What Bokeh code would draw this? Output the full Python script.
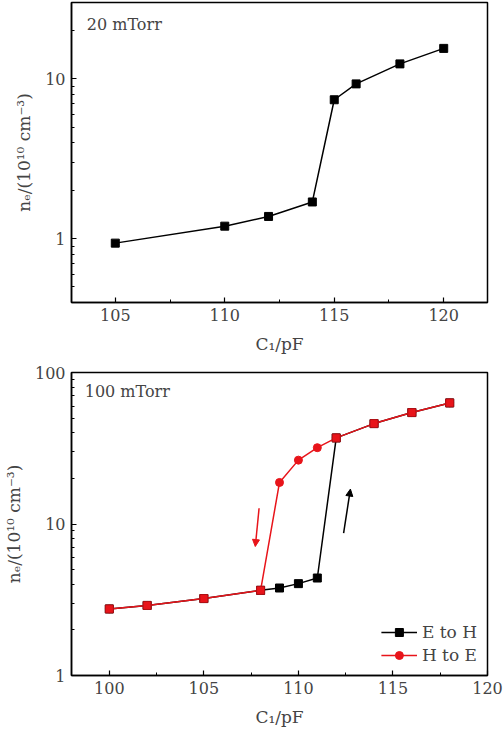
from bokeh.plotting import figure
from bokeh.layouts import column
from bokeh.models import Range1d, FixedTicker, Arrow, NormalHead, Label, Legend, LegendItem
from bokeh.embed import file_html
from bokeh.resources import INLINE

# ---- data: 20 mTorr ----
c1_20 = [105, 110, 112, 114, 115, 116, 118, 120]
ne_20 = [0.94, 1.20, 1.38, 1.70, 7.4, 9.3, 12.4, 15.5]

# ---- data: 100 mTorr ----
c1_eh = [100, 102, 105, 108, 109, 110, 111, 112, 114, 116, 118]
ne_eh = [2.75, 2.90, 3.22, 3.65, 3.78, 4.04, 4.40, 37.0, 46.0, 54.4, 63.0]
c1_he = [118, 116, 114, 112, 111, 110, 109, 108, 105, 102, 100]
ne_he = [63.0, 54.4, 46.0, 37.0, 31.9, 26.4, 18.8, 3.65, 3.22, 2.90, 2.75]

x_ticks_top = [105, 110, 115, 120]
x_ticks_bot = [100, 105, 110, 115, 120]
y_ticks_top = [1, 10]
y_ticks_bot = [1, 10, 100]
y_minor_top = [0.4, 0.5, 0.6, 0.7, 0.8, 0.9, 2, 3, 4, 5, 6, 7, 8, 9, 20, 30]
y_minor_bot = [2, 3, 4, 5, 6, 7, 8, 9, 20, 30, 40, 50, 60, 70, 80, 90]

FONT = "DejaVu Serif"
YLABEL = "nₑ/(10¹⁰ cm⁻³)"
XLABEL = "C₁/pF"


def style(p, xticks, yticks, yminor):
    p.outline_line_color = "black"
    p.outline_line_width = 1.5
    p.grid.visible = False
    p.background_fill_color = "white"
    p.border_fill_color = "white"
    for ax in (p.xaxis[0], p.yaxis[0]):
        ax.axis_line_width = 1.5
        ax.major_tick_in = 5
        ax.major_tick_out = 0
        ax.minor_tick_in = 3
        ax.minor_tick_out = 0
        ax.major_tick_line_width = 1.2
        ax.minor_tick_line_width = 1.0
        ax.major_label_text_font = FONT
        ax.major_label_text_font_size = "16px"
        ax.axis_label_text_font = FONT
        ax.axis_label_text_font_size = "17px"
        ax.axis_label_text_font_style = "normal"
        ax.major_label_standoff = 6
    p.xaxis[0].ticker = FixedTicker(ticks=xticks,
                                    minor_ticks=[t + 2.5 for t in xticks])
    p.yaxis[0].ticker = FixedTicker(ticks=yticks, minor_ticks=yminor)
    p.yaxis[0].major_label_overrides = {t: str(t) for t in yticks}
    p.xaxis[0].axis_label = XLABEL
    p.yaxis[0].axis_label = YLABEL
    p.yaxis[0].axis_label_standoff = 8
    p.xaxis[0].axis_label_standoff = 10


# ---------- top figure ----------
p1 = figure(frame_width=416, frame_height=300, y_axis_type="log",
            x_range=Range1d(103, 122), y_range=Range1d(0.4, 30),
            min_border_left=63, min_border_right=16, min_border_top=2,
            min_border_bottom=10,
            output_backend="svg", toolbar_location=None)
style(p1, x_ticks_top, y_ticks_top, y_minor_top)
p1.line(c1_20, ne_20, line_color="black", line_width=1.5)
p1.scatter(c1_20, ne_20, marker="square", size=8, fill_color="black",
           line_color="black")
p1.add_layout(Label(x=103.7, y=22, text="20 mTorr", text_font=FONT,
                    text_font_size="16px", text_baseline="middle"))

# ---------- bottom figure ----------
p2 = figure(frame_width=416, frame_height=303, y_axis_type="log",
            x_range=Range1d(98, 120), y_range=Range1d(1, 100),
            min_border_left=63, min_border_right=16, min_border_top=16,
            min_border_bottom=10,
            output_backend="svg", toolbar_location=None)
style(p2, x_ticks_bot, y_ticks_bot, y_minor_bot)

r_eh_l = p2.line(c1_eh, ne_eh, line_color="black", line_width=1.5)
r_eh_m = p2.scatter(c1_eh, ne_eh, marker="square", size=8, fill_color="black",
                    line_color="black")
r_he_l = p2.line(c1_he, ne_he, line_color="#e8141a", line_width=1.5)
r_he_m = p2.scatter(c1_he, ne_he, marker="circle", size=8,
                    fill_color="#e8141a", line_color="#e8141a")
# points shared by both sweeps appear as red squares
eh_pairs = set(zip(c1_eh, ne_eh))
shared = [(x, y) for x, y in zip(c1_he, ne_he) if (x, y) in eh_pairs]
p2.scatter([s[0] for s in shared], [s[1] for s in shared], marker="square",
           size=8, fill_color="#e8141a", line_color="#b01015")

p2.add_layout(Arrow(x_start=107.92, y_start=12.7, x_end=107.72, y_end=7.1,
                    line_color="#e8141a", line_width=1.5,
                    end=NormalHead(size=7, fill_color="#e8141a",
                                   line_color="#e8141a")))
p2.add_layout(Arrow(x_start=112.39, y_start=8.7, x_end=112.75, y_end=17.0,
                    line_color="black", line_width=1.5,
                    end=NormalHead(size=7, fill_color="black",
                                   line_color="black")))
p2.add_layout(Label(x=98.7, y=75, text="100 mTorr", text_font=FONT,
                    text_font_size="16px", text_baseline="middle"))

legend = Legend(items=[LegendItem(label="E to H", renderers=[r_eh_l, r_eh_m]),
                       LegendItem(label="H to E", renderers=[r_he_l, r_he_m])],
                location="bottom_right", border_line_color=None,
                background_fill_alpha=0, label_text_font=FONT,
                label_text_font_size="17px", glyph_width=36,
                spacing=3, padding=4, margin=10)
p2.add_layout(legend)

layout = column(p1, p2, spacing=0)
open("out.html", "w").write(file_html(layout, INLINE))
